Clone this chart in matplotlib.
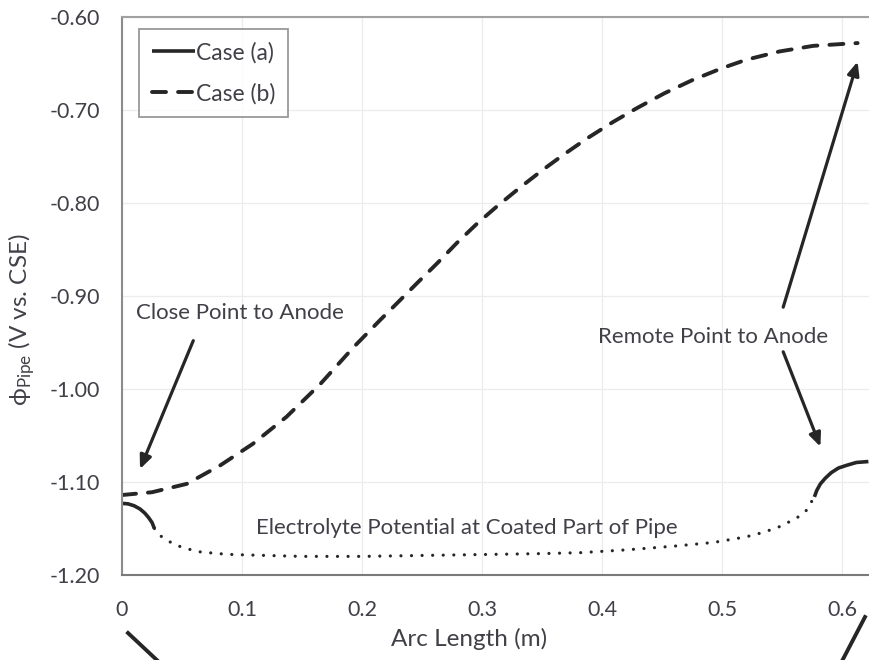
import numpy as np
import matplotlib
matplotlib.use('Agg')
import matplotlib.pyplot as plt
from matplotlib.lines import Line2D

plt.rcParams['font.family'] = ['Lato', 'DejaVu Sans']
plt.rcParams['mathtext.fontset'] = 'custom'
plt.rcParams['mathtext.rm'] = 'Lato'
plt.rcParams['mathtext.fallback'] = 'stixsans'

# case (b): pipe potential along the arc
x_b = [0.0, 0.025, 0.054, 0.082, 0.109, 0.137, 0.165, 0.193, 0.215, 0.229, 0.246,
       0.2625, 0.279, 0.296, 0.313, 0.332, 0.351, 0.368, 0.387, 0.409, 0.429, 0.452,
       0.475, 0.500, 0.520, 0.548, 0.576, 0.600, 0.613]
y_b = [-1.114, -1.111, -1.102, -1.082, -1.059, -1.030, -0.995, -0.955, -0.926, -0.908,
       -0.886, -0.865, -0.843, -0.822, -0.803, -0.783, -0.764, -0.748, -0.731, -0.713,
       -0.698, -0.682, -0.668, -0.655, -0.646, -0.637, -0.631, -0.629, -0.628]

# case (a): bare part near the anode
x_a_left = [0.0, 0.005, 0.010, 0.015, 0.019, 0.022, 0.025, 0.027]
y_a_left = [-1.123, -1.1235, -1.1255, -1.129, -1.1335, -1.138, -1.1435, -1.150]

# case (a): bare part remote from the anode
x_a_right = [0.577, 0.579, 0.582, 0.586, 0.591, 0.597, 0.604, 0.612, 0.622]
y_a_right = [-1.116, -1.109, -1.102, -1.096, -1.090, -1.085, -1.082, -1.079, -1.078]

# electrolyte potential at coated part (dotted)
x_el = [0.027, 0.031, 0.038, 0.045, 0.055, 0.064, 0.080, 0.092, 0.120, 0.150, 0.200,
        0.250, 0.300, 0.350, 0.382, 0.420, 0.460, 0.493, 0.520, 0.535, 0.548, 0.562,
        0.570, 0.577]
y_el = [-1.150, -1.157, -1.163, -1.168, -1.172, -1.175, -1.177, -1.178, -1.179, -1.180,
        -1.180, -1.179, -1.178, -1.177, -1.176, -1.173, -1.169, -1.165, -1.159, -1.154,
        -1.148, -1.139, -1.131, -1.116]

xticks = [0, 0.1, 0.2, 0.3, 0.4, 0.5, 0.6]
xticklabels = ['0', '0.1', '0.2', '0.3', '0.4', '0.5', '0.6']
yticks = [-1.2, -1.1, -1.0, -0.9, -0.8, -0.7, -0.6]

lc = '#262626'
tc = '#404048'

fig = plt.figure(figsize=(8.69, 6.6), dpi=100)
ax = fig.add_axes([0.1404, 0.1288, 0.8596, 0.8454])

ax.plot(x_a_left, y_a_left, color=lc, lw=2.6, solid_capstyle='butt', label='Case (a)')
ax.plot(x_a_right, y_a_right, color=lc, lw=2.6, solid_capstyle='butt')
ax.plot(x_el, y_el, color=lc, lw=2.3, linestyle=(0, (0.01, 3.3)), dash_capstyle='round')
ax.plot(x_b, y_b, color=lc, lw=2.8, linestyle=(0, (3.6, 3.1)), dash_capstyle='round',
        label='Case (b)')

ax.set_xlim(0, 0.6225)
ax.set_ylim(-1.2, -0.6)
ax.set_xticks(xticks)
ax.set_xticklabels(xticklabels)
ax.set_yticks(yticks)
ax.set_yticklabels([f'{v:.2f}' for v in yticks])
ax.tick_params(length=0, labelsize=15.5, colors=tc)
ax.tick_params(axis='y', pad=16)
ax.tick_params(axis='x', pad=18)
ax.grid(True, color='#ececec', lw=0.9)
ax.set_axisbelow(True)

ax.spines['right'].set_visible(False)
ax.spines['left'].set_color('#8c8c8c')
ax.spines['top'].set_color('#a0a0a0')
ax.spines['bottom'].set_color('#7a7a7a')
for s in ['left', 'top', 'bottom']:
    ax.spines[s].set_linewidth(1.5)

ax.set_xlabel('Arc Length (m)', fontsize=17.5, color=tc)
ax.xaxis.set_label_coords((469 - 122) / 747, -(628 - 575) / 558)
ax.set_ylabel(r'$\mathrm{ϕ}_{\mathrm{Pipe}}$ (V vs. CSE)', fontsize=17.5, color=tc)
ax.yaxis.set_label_coords(-(122 - 37) / 747, (575 - 320) / 558)

# annotations
aprops = dict(arrowstyle='-|>,head_length=0.8,head_width=0.35', color=lc, lw=2.3,
              shrinkA=0, shrinkB=0)
ax.text(0.012, -0.918, 'Close Point to Anode', fontsize=16, color=tc, va='center', ha='left')
ax.annotate('', xy=(0.015, -1.086), xytext=(0.0594, -0.948), arrowprops=aprops)
ax.text(0.397, -0.944, 'Remote Point to Anode', fontsize=16, color=tc, va='center', ha='left')
ax.annotate('', xy=(0.582, -1.062), xytext=(0.551, -0.960), arrowprops=aprops)
ax.annotate('', xy=(0.613, -0.648), xytext=(0.551, -0.912), arrowprops=aprops)
ax.text(0.112, -1.149, 'Electrolyte Potential at Coated Part of Pipe', fontsize=16,
        color=tc, va='center', ha='left')

leg = ax.legend(loc='upper left', bbox_to_anchor=(0.0228, 0.9785), borderaxespad=0,
                fontsize=16.5, frameon=True, fancybox=False, handlelength=1.9,
                handletextpad=0.05, labelspacing=0.85, borderpad=0.55)
leg.get_frame().set_edgecolor('#7f7f7f')
leg.get_frame().set_linewidth(1.3)
for t in leg.get_texts():
    t.set_color(tc)

# cut-off arrow pieces below the chart
fig.add_artist(Line2D([128 / 869, 160 / 869], [1 - 633 / 660, 1 - 663 / 660],
                      color=lc, lw=2.8, transform=fig.transFigure))
fig.add_artist(Line2D([865 / 869, 841 / 869], [1 - 617 / 660, 1 - 663 / 660],
                      color=lc, lw=2.8, transform=fig.transFigure))

fig.savefig('out.png', dpi=100)
